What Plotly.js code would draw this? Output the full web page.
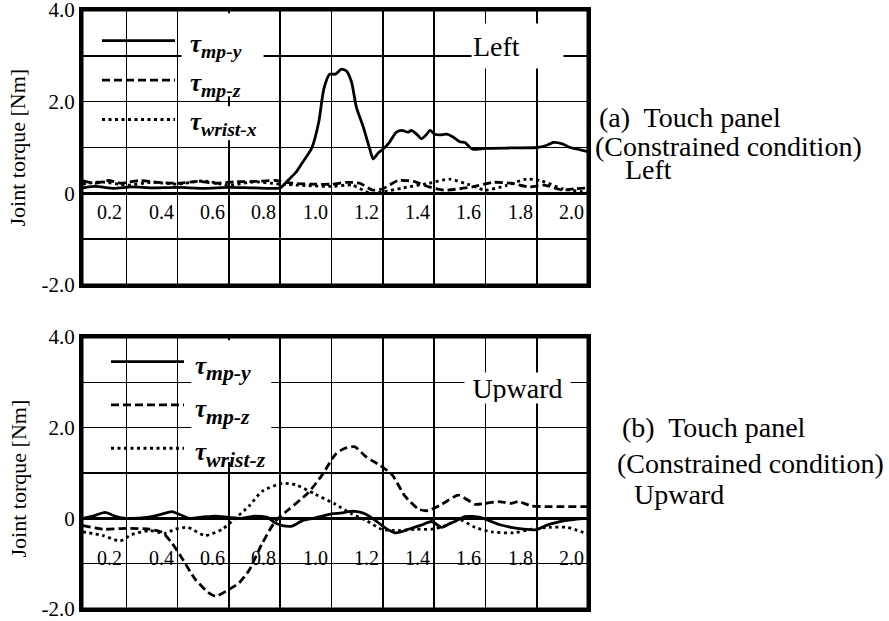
<!DOCTYPE html>
<html>
<head>
<meta charset="utf-8">
<script src="https://cdn.plot.ly/plotly-3.0.1.min.js"></script>
<style>html,body{margin:0;padding:0;background:#fff;}#chart{width:889px;height:621px;}</style>
</head>
<body>
<div id="chart"></div>
<script>
// ---------- Data ----------
// (a) Left : time [s] and joint torque [Nm]
const tTopMpY = [0.03,0.08,0.15,0.22,0.3,0.4,0.5,0.6,0.7,0.8,0.833,0.86,0.884,0.923,0.95,0.97,0.993,1.015,1.039,1.058,1.078,1.097,1.123,1.149,1.162,1.182,1.208,1.227,1.253,1.273,1.299,1.312,1.332,1.351,1.371,1.384,1.403,1.423,1.449,1.475,1.5,1.52,1.54,1.553,1.6,1.7,1.8,1.84,1.865,1.9,1.93,1.97,2.0];
const topMpY  = [0.12,0.15,0.11,0.14,0.12,0.13,0.11,0.13,0.12,0.12,0.3,0.45,0.65,0.99,1.55,2.28,2.6,2.6,2.71,2.67,2.43,1.875,1.46,0.97,0.75,0.88,1.0,1.125,1.335,1.375,1.335,1.375,1.29,1.19,1.29,1.375,1.29,1.275,1.29,1.225,1.125,1.11,1.0,0.96,0.98,0.99,1.0,1.05,1.11,1.08,1.0,0.95,0.91];
const tTopMpZ = [0.03,0.08,0.13,0.18,0.25,0.32,0.4,0.48,0.55,0.62,0.7,0.78,0.85,0.92,1.0,1.06,1.11,1.16,1.2,1.26,1.32,1.38,1.44,1.5,1.55,1.63,1.7,1.77,1.83,1.9,1.95,2.0];
const topMpZ  = [0.27,0.22,0.28,0.22,0.28,0.24,0.22,0.26,0.22,0.25,0.26,0.28,0.22,0.2,0.2,0.24,0.22,0.07,0.1,0.28,0.26,0.14,0.07,0.1,0.14,0.24,0.22,0.14,0.18,0.07,0.1,0.12];
const tTopWrist = [0.03,0.1,0.2,0.3,0.4,0.5,0.6,0.7,0.8,0.9,1.0,1.08,1.15,1.2,1.28,1.38,1.46,1.53,1.6,1.68,1.76,1.82,1.9,2.0];
const topWrist  = [0.2,0.25,0.18,0.24,0.2,0.27,0.18,0.25,0.2,0.17,0.15,0.18,0.0,0.03,0.12,0.22,0.31,0.2,0.07,0.17,0.31,0.27,0.1,0.02];

// (b) Upward
const tBotMpY = [0.03,0.07,0.117,0.16,0.2,0.28,0.33,0.378,0.41,0.444,0.5,0.547,0.6,0.65,0.7,0.75,0.78,0.808,0.847,0.887,0.93,0.965,1.0,1.04,1.065,1.1,1.13,1.16,1.195,1.22,1.246,1.27,1.30,1.35,1.39,1.43,1.46,1.48,1.52,1.58,1.65,1.7,1.75,1.8,1.84,1.91,1.95,2.0];
const botMpY  = [0.0,0.05,0.13,0.04,0.0,0.02,0.08,0.15,0.08,0.0,0.03,0.05,0.02,0.0,0.05,0.02,-0.1,-0.16,-0.17,-0.05,0.0,0.05,0.1,0.12,0.15,0.15,0.1,0.0,-0.15,-0.25,-0.32,-0.3,-0.24,-0.15,-0.07,-0.2,-0.12,-0.07,0.04,0.02,-0.13,-0.2,-0.24,-0.25,-0.15,-0.05,-0.02,0.0];
const tBotMpZ = [0.03,0.11,0.2,0.29,0.34,0.378,0.417,0.468,0.52,0.548,0.6,0.64,0.678,0.73,0.78,0.834,0.91,0.965,1.015,1.05,1.09,1.13,1.156,1.18,1.235,1.285,1.34,1.377,1.43,1.495,1.56,1.6,1.65,1.7,1.73,1.78,1.84,1.9,2.0];
const botMpZ  = [-0.16,-0.24,-0.22,-0.24,-0.31,-0.55,-0.88,-1.34,-1.64,-1.72,-1.57,-1.42,-1.15,-0.55,-0.07,0.2,0.57,0.97,1.41,1.54,1.58,1.38,1.28,1.2,0.97,0.5,0.2,0.17,0.31,0.51,0.31,0.33,0.37,0.33,0.37,0.27,0.26,0.26,0.26];
const tBotWrist = [0.03,0.11,0.175,0.22,0.29,0.35,0.39,0.44,0.507,0.574,0.625,0.678,0.73,0.808,0.86,0.937,1.015,1.077,1.13,1.195,1.26,1.33,1.39,1.45,1.495,1.56,1.625,1.71,1.78,1.85,1.92,2.0];
const botWrist  = [-0.3,-0.38,-0.5,-0.36,-0.27,-0.33,-0.24,-0.2,-0.38,-0.24,0.0,0.27,0.6,0.77,0.74,0.53,0.31,0.1,-0.03,-0.24,-0.27,-0.24,-0.24,-0.15,-0.02,-0.2,-0.3,-0.32,-0.24,-0.2,-0.2,-0.35];

// Axes / labels
const xGridVals = [0.2,0.4,0.6,0.8,1.0,1.2,1.4,1.6,1.8,2.0];
const xTickLabels = ['0.2','0.4','0.6','0.8','1.0','1.2','1.4','1.6','1.8','2.0'];
const yTickVals = [-2,-1,0,1,2,3,4];
const yTickText = ['-2.0','','0','','2.0','','4.0'];
const namesTop = ['mp-y','mp-z','wrist-x'];
const namesBot = ['mp-y','mp-z','wrist-z'];
const sideTextA = ['(a)\u00a0 Touch panel','(Constrained condition)','Left'];
const sideTextB = ['(b)\u00a0 Touch panel','(Constrained condition)','Upward'];
const panelTags = ['Left','Upward'];
const yTitle = 'Joint torque [Nm]';

// ---------- Styling ----------
const SERIF = 'Liberation Serif, Times New Roman, serif';
const LW = 2.8;
const dashes = ['solid','8px,4px','3px,3.5px'];
function legName(s, gap){ return '<span style="font-size:'+gap+'px">\u2002</span><span style="font-size:25px">τ</span><sub>'+s+'</sub>'; }

const traces = [];
const topSets = [[tTopMpY,topMpY],[tTopMpZ,topMpZ],[tTopWrist,topWrist]];
const botSets = [[tBotMpY,botMpY],[tBotMpZ,botMpZ],[tBotWrist,botWrist]];
topSets.forEach((s,i)=>traces.push({x:s[0],y:s[1],xaxis:'x',yaxis:'y',type:'scatter',mode:'lines',
  line:{color:'#000',width:LW,dash:dashes[i],shape:'spline',smoothing:0.6},name:legName(namesTop[i],20),legend:'legend'}));
botSets.forEach((s,i)=>traces.push({x:s[0],y:s[1],xaxis:'x2',yaxis:'y2',type:'scatter',mode:'lines',
  line:{color:'#000',width:LW,dash:dashes[i],shape:'spline',smoothing:0.6},name:legName(namesBot[i],12),legend:'legend2'}));

function xAx(anchor){
  return {domain:[0,1],range:[0.027,2.0],anchor:anchor,tickvals:xGridVals,showticklabels:false,ticks:'',
    showgrid:true,gridcolor:'#000',gridwidth:1.6,zeroline:false,showline:true,mirror:true,linecolor:'#000',linewidth:3,fixedrange:true};
}
function yAx(anchor,dom){
  return {domain:dom,range:[-2,4],anchor:anchor,tickvals:yTickVals,ticktext:yTickText,ticks:'',ticklabeloverflow:'allow',
    tickfont:{family:SERIF,size:21,color:'#000'},showgrid:true,gridcolor:'#000',gridwidth:1.6,
    zeroline:true,zerolinecolor:'#000',zerolinewidth:3,showline:true,mirror:true,linecolor:'#000',linewidth:3,fixedrange:true};
}

const annotations = [];
xGridVals.forEach((v,i)=>{
  annotations.push({xref:'x',yref:'y',x:v,y:-0.40,text:xTickLabels[i],showarrow:false,xanchor:'right',yanchor:'middle',xshift:-2,font:{family:SERIF,size:20,color:'#000'}});
  annotations.push({xref:'x2',yref:'y2',x:v,y:-0.88,text:xTickLabels[i],showarrow:false,xanchor:'right',yanchor:'middle',xshift:-2,font:{family:SERIF,size:20,color:'#000'}});
});
annotations.push({xref:'x',yref:'y',x:1.725,y:3.22,text:panelTags[0],showarrow:false,bgcolor:'#fff',width:89,height:42,align:'left',font:{family:SERIF,size:28,color:'#000'}});
annotations.push({xref:'x2',yref:'y2',x:1.726,y:2.87,text:panelTags[1],showarrow:false,bgcolor:'#fff',width:103,height:28,font:{family:SERIF,size:28,color:'#000'}});
const px2x = px => (px-82)/506, py2y = py => (609-py)/599;
// y axis titles (rotated), one per panel
annotations.push({xref:'paper',yref:'y domain',x:px2x(18),y:0.5,text:yTitle,textangle:-90,showarrow:false,xanchor:'center',yanchor:'middle',font:{family:SERIF,size:22,color:'#000'}});
annotations.push({xref:'paper',yref:'y2 domain',x:px2x(18),y:0.48,text:yTitle,textangle:-90,showarrow:false,xanchor:'center',yanchor:'middle',font:{family:SERIF,size:22,color:'#000'}});
const sideA = [[597,118],[593,146],[623,169.5]];
const sideB = [[620,427],[615,463],[632,494]];
sideTextA.forEach((t,i)=>annotations.push({xref:'paper',yref:'paper',x:px2x(sideA[i][0]),y:py2y(sideA[i][1]),text:t,showarrow:false,xanchor:'left',yanchor:'middle',font:{family:SERIF,size:28,color:'#000'}}));
sideTextB.forEach((t,i)=>annotations.push({xref:'paper',yref:'paper',x:px2x(sideB[i][0]),y:py2y(sideB[i][1]),text:t,showarrow:false,xanchor:'left',yanchor:'middle',font:{family:SERIF,size:28,color:'#000'}}));

const shapes = [
  {type:'rect',xref:'x',yref:'y',x0:0.415,x1:0.735,y0:2.12,y1:3.93,fillcolor:'#fff',line:{width:0},layer:'above'},
  {type:'rect',xref:'x',yref:'y',x0:0.415,x1:0.735,y0:1.16,y1:1.9,fillcolor:'#fff',line:{width:0},layer:'above'},
  {type:'rect',xref:'x2',yref:'y2',x0:0.453,x1:0.765,y0:1.24,y1:3.93,fillcolor:'#fff',line:{width:0},layer:'above'},
  {type:'rect',xref:'x domain',yref:'y domain',x0:0,x1:1,y0:0,y1:1,line:{color:'#000',width:3},layer:'above'},
  {type:'rect',xref:'x2 domain',yref:'y2 domain',x0:0,x1:1,y0:0,y1:1,line:{color:'#000',width:3},layer:'above'}
];

const legBase = {xref:'paper',yref:'paper',xanchor:'left',yanchor:'top',bgcolor:'rgba(0,0,0,0)',borderwidth:0,
  itemwidth:73,tracegroupgap:0,itemclick:false,itemdoubleclick:false};
const layout = {
  width:889,height:621,margin:{l:82,r:301,t:10,b:12},paper_bgcolor:'#fff',plot_bgcolor:'#fff',
  font:{family:SERIF,color:'#000'},showlegend:true,
  xaxis:xAx('y'),yaxis:yAx('x',[0.5409,1]),
  xaxis2:xAx('y2'),yaxis2:yAx('x2',[0,0.4541]),
  legend:Object.assign({},legBase,{x:px2x(97),y:py2y(16),font:{family:SERIF,size:28,color:'#000',weight:'bold',style:'italic'}}),
  legend2:Object.assign({},legBase,{x:px2x(106),y:py2y(335),font:{family:SERIF,size:31,color:'#000',weight:'bold',style:'italic'}}),
  annotations:annotations,shapes:shapes
};
Plotly.newPlot('chart',traces,layout,{staticPlot:true,displayModeBar:false});
</script>
</body>
</html>
